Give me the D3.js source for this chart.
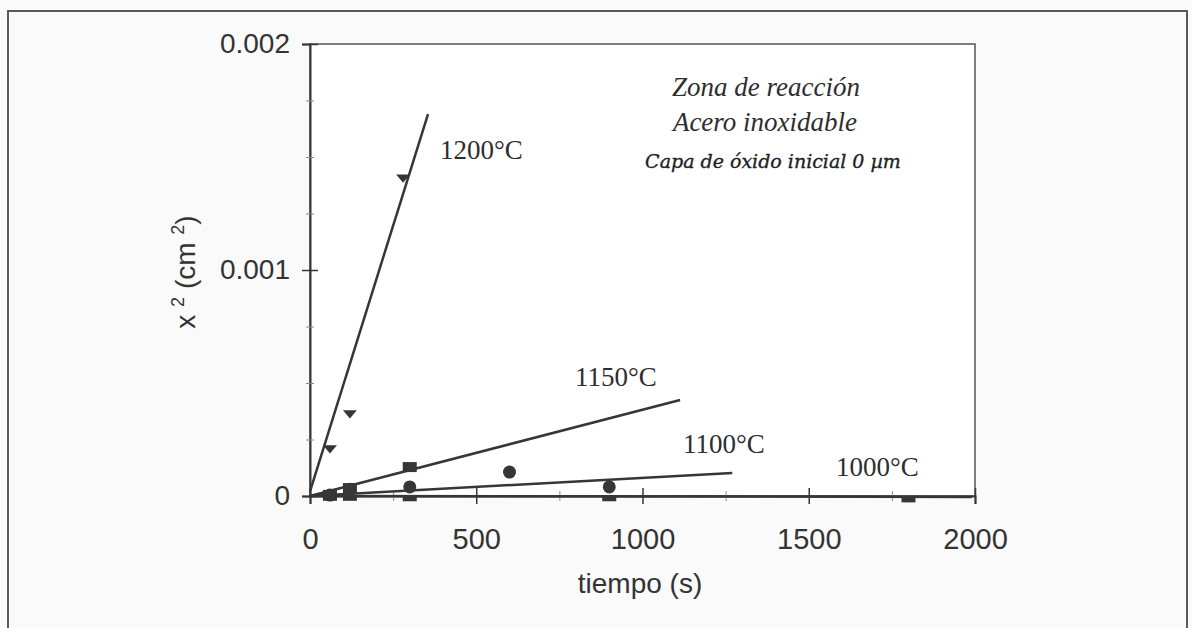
<!DOCTYPE html>
<html lang="es">
<head>
<meta charset="UTF-8">
<title>Zona de reacción</title>
<script src="https://d3js.org/d3.v7.min.js"></script>
<style>
  body { margin: 0; background: #fafafa; }
  svg { display: block; }
</style>
</head>
<body>
<script>
// tiempo (s) y x² (cm²)
const t1200 = [60, 120, 280];
const x1200 = [0.000212, 0.000367, 0.00141];
const t1150 = [60, 120, 300];
const x1150 = [0.000005, 0.000035, 0.000128];
const t1100 = [60, 120, 300, 600, 900];
const x1100 = [0.000004, 0.00003, 0.00004, 0.000106, 0.00004];
const t1000 = [60, 120, 300, 900, 1800];
const x1000 = [-0.000008, -0.000008, -0.00001, -0.00001, -0.000015];

// rectas de ajuste: [t inicio, t fin], [x2 inicio, x2 fin]
const fit1200 = [[0, 355], [0.00002, 0.00169]];
const fit1150 = [[0, 1113], [0, 0.000425]];
const fit1100 = [[0, 1270], [0, 0.000102]];
const fit1000 = [[0, 1990], [0, -0.000004]];

const xTicks = [0, 500, 1000, 1500, 2000];
const xMinor = [250, 750, 1250, 1750];
const yTicks = [0, 0.001, 0.002];
const yMinor = [0.00025, 0.0005, 0.00075, 0.00125, 0.0015, 0.00175];

const W = 1192, H = 628;
const ink = "#363636";
const sans = "'Liberation Sans', Arial, sans-serif";
const serif = "'Liberation Serif', 'Times New Roman', serif";

const svg = d3.select("body").append("svg").attr("width", W).attr("height", H);
svg.append("rect").attr("width", W).attr("height", H).attr("fill", "#fafafa");

// marco exterior
svg.append("rect").attr("x", 8).attr("y", 11).attr("width", 1179).attr("height", 650)
  .attr("fill", "none").attr("stroke", "#5a5a5a").attr("stroke-width", 2);

const x = d3.scaleLinear().domain([0, 2000]).range([310, 975]);
const y = d3.scaleLinear().domain([0, 0.002]).range([496, 44]);

// caja del grafico
svg.append("rect").attr("x", x(0)).attr("y", y(0.002))
  .attr("width", x(2000) - x(0)).attr("height", y(0) - y(0.002))
  .attr("fill", "#fff").attr("stroke", "#555").attr("stroke-width", 1.5);

// eje y
const gy = svg.append("g").attr("transform", "translate(" + x(0) + ",0)")
  .call(d3.axisLeft(y).tickValues(yTicks).tickSize(8).tickPadding(12)
    .tickFormat(d => d === 0 ? "0" : d3.format(".3f")(d)));
gy.select(".domain").attr("stroke", ink).attr("stroke-width", 2);
gy.selectAll(".tick line").attr("x1", 8).attr("stroke", ink).attr("stroke-width", 1.5);
gy.selectAll(".tick text").attr("font-family", sans).attr("font-size", 28).attr("fill", "#333");

const gym = svg.append("g").attr("transform", "translate(" + x(0) + ",0)")
  .call(d3.axisLeft(y).tickValues(yMinor).tickSize(4).tickFormat(""));
gym.select(".domain").remove();
gym.selectAll(".tick line").attr("x1", 4).attr("stroke", "#888").attr("stroke-width", 1);

// eje x
const gx = svg.append("g").attr("transform", "translate(0," + y(0) + ")")
  .call(d3.axisBottom(x).tickValues(xTicks).tickSize(8).tickPadding(24)
    .tickFormat(d3.format("d")));
gx.select(".domain").attr("stroke", ink).attr("stroke-width", 2);
gx.selectAll(".tick line").attr("y1", -8).attr("stroke", ink).attr("stroke-width", 1.5);
gx.selectAll(".tick text").attr("font-family", sans).attr("font-size", 29).attr("fill", "#333");

const gxm = svg.append("g").attr("transform", "translate(0," + y(0) + ")")
  .call(d3.axisBottom(x).tickValues(xMinor).tickSize(5).tickFormat(""));
gxm.select(".domain").remove();
gxm.selectAll(".tick line").attr("y1", -5).attr("stroke", "#888").attr("stroke-width", 1);

// titulos de ejes
svg.append("text").attr("x", 640).attr("y", 593).attr("text-anchor", "middle")
  .attr("font-family", sans).attr("font-size", 28).attr("fill", "#333").text("tiempo (s)");

const yl = svg.append("text").attr("transform", "translate(195,272) rotate(-90)")
  .attr("text-anchor", "middle").attr("font-family", sans).attr("font-size", 28).attr("fill", "#333");
yl.append("tspan").text("x ");
yl.append("tspan").attr("font-size", 18).attr("dy", -11).text("2");
yl.append("tspan").attr("dy", 11).text(" (cm ");
yl.append("tspan").attr("font-size", 18).attr("dy", -11).text("2");
yl.append("tspan").attr("dy", 11).text(")");

// rectas de ajuste
const line = d3.line().x(d => x(d[0])).y(d => y(d[1]));
[fit1200, fit1150, fit1100, fit1000].forEach(f => {
  svg.append("path").datum(d3.zip(f[0], f[1])).attr("d", line)
    .attr("fill", "none").attr("stroke", ink).attr("stroke-width", 2.5);
});

// marcadores
const tri = d3.symbol().type(d3.symbolTriangle).size(70);
svg.selectAll(".m1200").data(d3.zip(t1200, x1200)).join("path")
  .attr("class", "m1200").attr("d", tri)
  .attr("transform", d => "translate(" + x(d[0]) + "," + y(d[1]) + ") rotate(180) scale(1.1,0.75)")
  .attr("fill", ink);

svg.selectAll(".m1150").data(d3.zip(t1150, x1150)).join("rect")
  .attr("class", "m1150").attr("x", d => x(d[0]) - 7).attr("y", d => y(d[1]) - 5)
  .attr("width", 14).attr("height", 10).attr("fill", ink);

svg.selectAll(".m1100").data(d3.zip(t1100, x1100)).join("circle")
  .attr("class", "m1100").attr("cx", d => x(d[0])).attr("cy", d => y(d[1]))
  .attr("r", 6.5).attr("fill", ink);

svg.selectAll(".m1000").data(d3.zip(t1000, x1000)).join("rect")
  .attr("class", "m1000").attr("x", d => x(d[0]) - 7).attr("y", d => y(d[1]) - 3)
  .attr("width", 14).attr("height", 6).attr("fill", ink);

// etiquetas de temperatura
const tempLabels = [
  { s: "1200°C", px: 440, py: 159 },
  { s: "1150°C", px: 575, py: 386 },
  { s: "1100°C", px: 683, py: 453 },
  { s: "1000°C", px: 836, py: 476 }
];
svg.selectAll(".tl").data(tempLabels).join("text").attr("class", "tl")
  .attr("x", d => d.px).attr("y", d => d.py)
  .attr("font-family", serif).attr("font-size", 27).attr("fill", "#2e2e2e")
  .text(d => d.s);

// leyenda en cursiva
svg.append("text").attr("x", 766).attr("y", 96).attr("text-anchor", "middle")
  .attr("font-family", serif).attr("font-style", "italic").attr("font-size", 27)
  .attr("fill", "#2e2e2e").text("Zona de reacción");
svg.append("text").attr("x", 765).attr("y", 131).attr("text-anchor", "middle")
  .attr("font-family", serif).attr("font-style", "italic").attr("font-size", 27)
  .attr("fill", "#2e2e2e").text("Acero inoxidable");
svg.append("text").attr("x", 773).attr("y", 168).attr("text-anchor", "middle")
  .attr("font-family", "'DejaVu Serif', serif").attr("font-style", "italic")
  .attr("font-size", 19).attr("fill", "#222")
  .attr("stroke", "#222").attr("stroke-width", 0.35)
  .text("Capa de óxido inicial 0 µm");
</script>
</body>
</html>
